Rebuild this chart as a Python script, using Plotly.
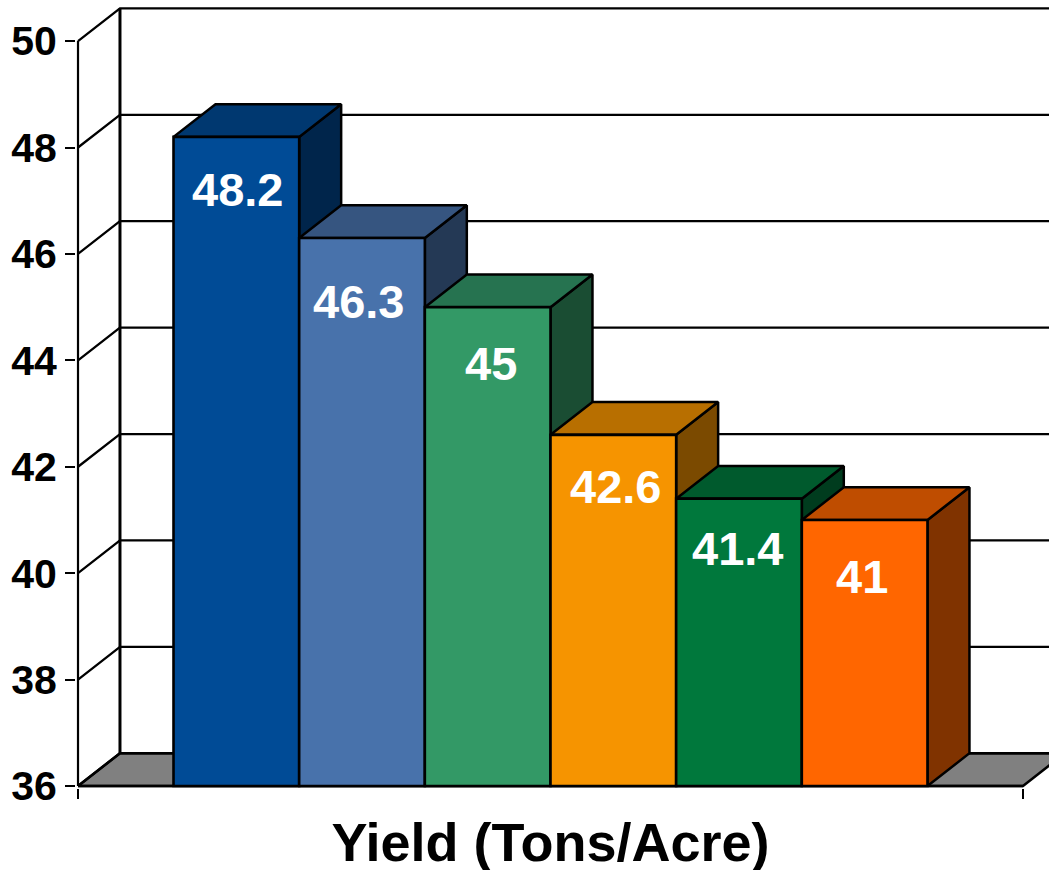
import plotly.graph_objects as go

# --- data ---
categories = ["A", "B", "C", "D", "E", "F"]
yield_values = [48.2, 46.3, 45, 42.6, 41.4, 41]
value_labels = ["48.2", "46.3", "45", "42.6", "41.4", "41"]
y_ticks = [36, 38, 40, 42, 44, 46, 48, 50]
axis_title = "Yield (Tons/Acre)"

# --- style ---
front_colors = ["#004B96", "#4872AB", "#339966", "#F69400", "#00783C", "#FF6600"]
top_colors = ["#003870", "#365580", "#267350", "#B86F00", "#005A2D", "#BF4D00"]
side_colors = ["#00254B", "#243955", "#1A4D33", "#7B4A00", "#003C1E", "#803300"]
label_xshift = [1, -4, 3.5, 2, -1.5, -3]
label_yshift = [53, 64, 56, 52, 50, 57]
FONT = "Liberation Sans, Arial, sans-serif"
x0, x1 = -1.26, 6.26      # ends of the floor's front edge
y0, y_top = y_ticks[0], y_ticks[-1]
X_RANGE = [-1.276, 6.467]  # plot window, a little wider than the box
Y_RANGE = [35.962, 50.66]
DX, DY = 0.334, 0.615     # depth of the 3-D box in axis units
LINE = dict(color="black", width=2.5)
positions = list(range(len(yield_values)))

fig = go.Figure()


def polygon(xs, ys, fill, line=LINE):
    fig.add_trace(go.Scatter(
        x=xs + xs[:1], y=ys + ys[:1], mode="lines", fill="toself", fillcolor=fill,
        line=line, hoverinfo="skip", showlegend=False))


def polyline(xs, ys, width):
    fig.add_trace(go.Scatter(x=xs, y=ys, mode="lines", line=dict(color="black", width=width),
                             hoverinfo="skip", showlegend=False))


# floor
polygon([x0, x1, x1 + DX, x0 + DX], [y0, y0, y0 + DY, y0 + DY], "#808080",
        dict(color="black", width=2.6))

# walls: grid lines on the left and back walls
gx, gy = [], []
for t in y_ticks:
    gx += [x0, x0 + DX, x1 + DX, None]
    gy += [t, t + DY, t + DY, None]
polyline(gx, gy, 2.3)
polyline([x0 + DX, x0 + DX], [y0 + DY, y_top + DY], 3)     # back wall edge
polyline([x0, x0], [y0, y_top], 2.2)                       # front vertical axis
polyline([x0, x1], [y0, y0], 2.6)                          # front horizontal axis

# top and side faces of every bar, left to right
for p, v, tc, sc in zip(positions, yield_values, top_colors, side_colors):
    l, r = p - 0.5, p + 0.5
    polygon([r, r + DX, r + DX, r], [y0, y0 + DY, v + DY, v], sc)
    polygon([l, r, r + DX, l + DX], [v, v, v + DY, v + DY], tc)

# front faces
fig.add_trace(go.Bar(
    x=positions, y=[v - y0 for v in yield_values], base=y0, width=1,
    marker=dict(color=front_colors, line=dict(color="black", width=2.6)),
    xaxis="x2", yaxis="y2", hoverinfo="skip", showlegend=False))

for p, v, txt, xs, ys in zip(positions, yield_values, value_labels, label_xshift, label_yshift):
    fig.add_annotation(x=p, y=v, xref="x2", yref="y2", text=f"<b>{txt}</b>", showarrow=False,
                       xshift=xs, yshift=-ys, xanchor="center", yanchor="middle",
                       font=dict(family=FONT, size=47, color="white"))

fig.update_layout(
    width=1049, height=870, autosize=False,
    margin=dict(l=76, r=0, t=6, b=82, autoexpand=False),
    paper_bgcolor="white", plot_bgcolor="white",
    showlegend=False,
    xaxis=dict(range=X_RANGE, tickvals=[(x0 + x1) / 2], ticktext=[f"<b>{axis_title}</b>"],
               ticks="", ticklabelstandoff=18, showgrid=False, zeroline=False, showline=False,
               tickangle=0,
               tickfont=dict(family=FONT, size=54, color="black"),
               minor=dict(tickmode="array", tickvals=[x0, x1], ticks="outside", ticklen=10,
                          tickwidth=2, tickcolor="black", showgrid=False)),
    yaxis=dict(range=Y_RANGE, tickvals=y_ticks, ticks="outside", ticklen=10, tickwidth=2,
               tickcolor="black", showgrid=False, zeroline=False, showline=False,
               tickfont=dict(family=FONT, size=41, color="black", weight="bold")),
    xaxis2=dict(range=X_RANGE, overlaying="x", visible=False),
    yaxis2=dict(range=Y_RANGE, overlaying="y", visible=False),
)

fig.write_html("out.html", config={"displayModeBar": False},
               post_script="document.body.style.margin='0';")
